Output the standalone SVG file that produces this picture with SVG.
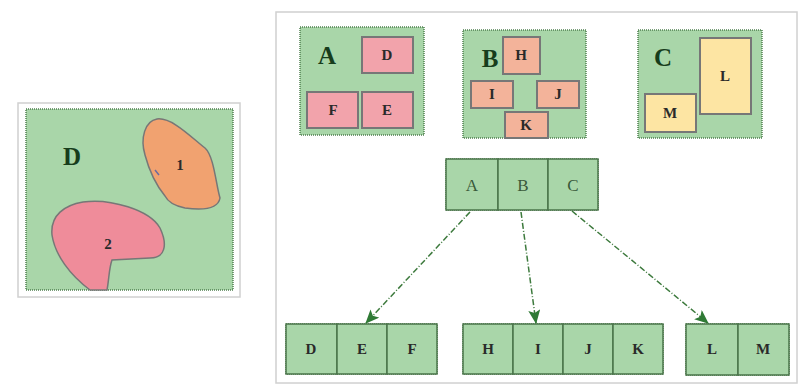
<svg xmlns="http://www.w3.org/2000/svg" width="799" height="389" viewBox="0 0 799 389">
<defs>
<style>
.frame{fill:#fff;stroke:#d0d0d0;stroke-width:1.5}
.grn{fill:#a9d6a9;stroke:#4f7f4f;stroke-width:1.5;stroke-dasharray:1 1}
.cell{fill:#a9d6a9;stroke:#4a744a;stroke-width:1.5}
.pink{fill:#f2a3ab;stroke:#777;stroke-width:2}
.sal{fill:#f3b39a;stroke:#777;stroke-width:2}
.yel{fill:#fde5a3;stroke:#777;stroke-width:2}
.t{font-family:"Liberation Serif",serif;font-size:15px;font-weight:bold;fill:#2a2a2a;text-anchor:middle;dominant-baseline:central}
.big{font-family:"Liberation Serif",serif;font-size:25px;font-weight:bold;fill:#173d1c;text-anchor:middle;dominant-baseline:central}
.ct{font-family:"Liberation Serif",serif;font-size:17px;fill:#3a5a3a;text-anchor:middle;dominant-baseline:central}
.conn{stroke:#3d7a3d;stroke-width:1.5;stroke-dasharray:6 2 1 2;fill:none}
</style>
<marker id="ah" markerWidth="14" markerHeight="12" refX="13" refY="6" orient="auto" markerUnits="userSpaceOnUse">
<path d="M0,0 L14,6 L0,12 L3,6 Z" fill="#2f7a35"/>
</marker>
</defs>
<rect width="799" height="389" fill="#fff"/>
<rect class="frame" x="18" y="103" width="222" height="194"/>
<rect class="frame" x="276" y="12" width="521" height="371"/>
<g id="D-map">
<rect class="grn" x="26" y="109" width="207" height="181"/>
<text class="big" x="72" y="156">D</text>
<path d="M157,119 C172,117 192,138 205,148 C214,156 216,185 220,198 C218,210 200,210 185,208 C175,206 168,202 165,196 C156,185 149,170 145,155 C140,138 145,121 157,119 Z" fill="#f1a270" stroke="#777" stroke-width="1.5"/>
<text class="t" x="180" y="165">1</text>
<path d="M155,170 l4,5" stroke="#6a6aa0" stroke-width="1.5"/>
<path d="M83,202 C110,198 150,210 160,228 C168,245 165,258 150,258 L112,260 C109,268 109,280 107,290 L90,290 C70,275 55,255 52,235 C50,215 65,205 83,202 Z" fill="#ef8c9a" stroke="#777" stroke-width="1.5"/>
<text class="t" x="108" y="244">2</text>
</g>
<g id="A">
<rect class="grn" x="300" y="27" width="124" height="108"/>
<text class="big" x="327" y="55">A</text>
<rect class="pink" x="362" y="37" width="51" height="36"/><text class="t" x="387" y="55">D</text>
<rect class="pink" x="307" y="92" width="51" height="36"/><text class="t" x="333" y="110">F</text>
<rect class="pink" x="362" y="92" width="51" height="36"/><text class="t" x="387" y="110">E</text>
</g>
<g id="B">
<rect class="grn" x="463" y="30" width="123" height="108"/>
<text class="big" x="490" y="58">B</text>
<rect class="sal" x="503" y="37" width="37" height="37"/><text class="t" x="521" y="55">H</text>
<rect class="sal" x="471" y="81" width="42" height="27"/><text class="t" x="492" y="94">I</text>
<rect class="sal" x="537" y="81" width="42" height="27"/><text class="t" x="558" y="94">J</text>
<rect class="sal" x="505" y="112" width="43" height="26"/><text class="t" x="526" y="125">K</text>
</g>
<g id="C">
<rect class="grn" x="638" y="30" width="124" height="108"/>
<text class="big" x="663" y="57">C</text>
<rect class="yel" x="700" y="38" width="51" height="76"/><text class="t" x="725" y="76">L</text>
<rect class="yel" x="645" y="94" width="51" height="38"/><text class="t" x="670" y="113">M</text>
</g>
<g id="ABC">
<rect class="grn" x="446" y="159" width="152" height="51"/>
<rect class="cell" x="446" y="159" width="52" height="51"/><text class="ct" x="472" y="185">A</text>
<rect class="cell" x="498" y="159" width="50" height="51"/><text class="ct" x="523" y="185">B</text>
<rect class="cell" x="548" y="159" width="50" height="51"/><text class="ct" x="573" y="185">C</text>
</g>
<g id="DEF">
<rect class="grn" x="286" y="324" width="151" height="50"/>
<rect class="cell" x="286" y="324" width="51" height="50"/><text class="t" x="311" y="349">D</text>
<rect class="cell" x="337" y="324" width="50" height="50"/><text class="t" x="362" y="349">E</text>
<rect class="cell" x="387" y="324" width="50" height="50"/><text class="t" x="412" y="349">F</text>
</g>
<g id="HIJK">
<rect class="grn" x="463" y="324" width="200" height="50"/>
<rect class="cell" x="463" y="324" width="50" height="50"/><text class="t" x="488" y="349">H</text>
<rect class="cell" x="513" y="324" width="50" height="50"/><text class="t" x="538" y="349">I</text>
<rect class="cell" x="563" y="324" width="50" height="50"/><text class="t" x="588" y="349">J</text>
<rect class="cell" x="613" y="324" width="50" height="50"/><text class="t" x="638" y="349">K</text>
</g>
<g id="LM">
<rect class="grn" x="686" y="324" width="103" height="51"/>
<rect class="cell" x="686" y="324" width="52" height="51"/><text class="t" x="712" y="349">L</text>
<rect class="cell" x="738" y="324" width="51" height="51"/><text class="t" x="763" y="349">M</text>
</g>
<g id="connectors">
<line class="conn" x1="470" y1="212" x2="366" y2="323" marker-end="url(#ah)"/>
<line class="conn" x1="521" y1="212" x2="536" y2="323" marker-end="url(#ah)"/>
<line class="conn" x1="572" y1="211" x2="708" y2="323" marker-end="url(#ah)"/>
</g>
</svg>
